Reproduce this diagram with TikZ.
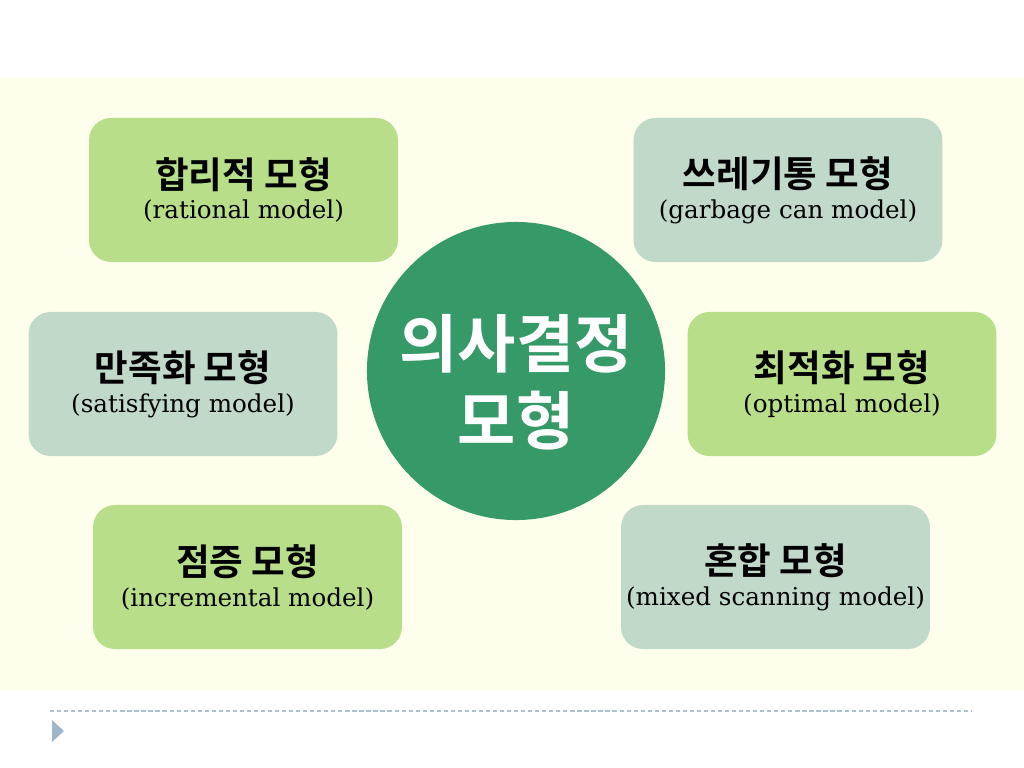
\documentclass[tikz,border=0pt]{standalone}
\usepackage{fontspec}
\setmainfont{DejaVu Serif}
\newfontfamily\krfont{Noto Sans CJK KR Bold}
\usepackage{tikz}
\usetikzlibrary{shapes,arrows.meta}
\definecolor{cream}{HTML}{FEFEEC}
\definecolor{leafgreen}{HTML}{B8DE8A}
\definecolor{sagegreen}{HTML}{C0D9C9}
\definecolor{hubgreen}{HTML}{359968}
\definecolor{ruleblue}{HTML}{A9C1D3}
\definecolor{markblue}{HTML}{9DB6C8}
\tikzset{
  modelbox/.style={rounded corners=0.55cm,minimum width=7.72cm,minimum height=3.6cm,inner sep=0pt,align=center,text=black,
    font=\fontsize{26}{30}\selectfont\krfont},
  leafbox/.style={modelbox,fill=leafgreen},
  sagebox/.style={modelbox,fill=sagegreen},
  hub/.style={circle,fill=hubgreen,minimum size=7.45cm,inner sep=0pt},
  hubtext/.style={align=center,text=white,inner sep=0pt,font=\fontsize{45}{55}\selectfont\krfont},
}
\newcommand{\model}[2]{#1\\[-8pt]{\fontsize{17.5}{21}\selectfont\rmfamily #2}}
\begin{document}
\begin{tikzpicture}[x=0.025cm,y=-0.025cm]
\useasboundingbox (0,0) rectangle (1024,768);
\fill[white](0,0)rectangle(1024,768);
\fill[cream](0,78)rectangle(1024,690);
% centre
\node[hub](hub)at(516,371){};
\node[hubtext](hubtitle)at(516,382){의사결정\\[0pt]모형};
% six models
\node[leafbox](rational)at(243.5,190){\model{합리적 모형}{(rational model)}};
\node[sagebox](garbage)at(788,190){\model{쓰레기통 모형}{(garbage can model)}};
\node[sagebox](satisfy)at(183,384){\model{만족화 모형}{(satisfying model)}};
\node[leafbox](optimal)at(842,384){\model{최적화 모형}{(optimal model)}};
\node[leafbox](incremental)at(247.5,577){\model{점증 모형}{(incremental model)}};
\node[sagebox](mixed)at(775.5,577){\model{혼합 모형}{(mixed scanning model)}};
% footer
\draw[ruleblue,line width=1pt,dash pattern=on 3 off 2](50,711)--(972,711);
\fill[markblue](52,720)--(64,731)--(52,742)--cycle;
\end{tikzpicture}
\end{document}
